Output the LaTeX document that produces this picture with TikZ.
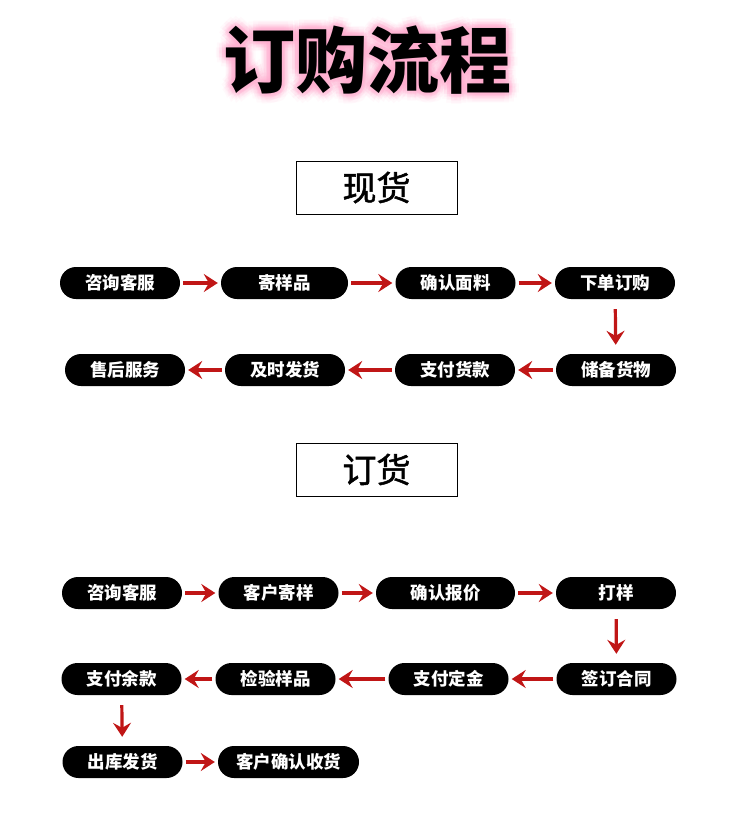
\documentclass[tikz,border=0pt]{standalone}
\usepackage{fontspec}
\setmainfont{Noto Sans CJK SC}
\newfontfamily\tagfont{Noto Sans CJK SC}[FakeBold=1.5]
\usetikzlibrary{arrows.meta,calc}

\definecolor{arrowred}{RGB}{192,22,22}
\definecolor{glowpink}{RGB}{255,170,205}

\tikzset{
  pill/.style={fill=black, text=white, rounded corners=16pt, minimum width=120pt,
    minimum height=32pt, inner sep=0pt, font=\fontsize{17.5}{17.5}\selectfont\bfseries},
  tag/.style={draw=black, line width=0.8pt, minimum width=161pt, minimum height=53pt,
    inner sep=0pt, font=\fontsize{34}{34}\tagfont},
  go/.style={draw=arrowred, line width=3.2pt, -{Stealth[length=14pt,width=18pt,inset=5pt]},
    shorten >=3pt, shorten <=3pt},
  godown/.style={go, shorten >=9pt, shorten <=10pt}
}

\begin{document}
\begin{tikzpicture}[x=1pt,y=-1pt]
\useasboundingbox (0,0) rectangle (750,840);

% title with glow
\foreach \r/\o in {10/0.07, 7/0.11, 4/0.18}
  \foreach \a in {0,30,...,330}
    \node[text=glowpink, opacity=\o, font=\fontsize{72}{72}\selectfont\bfseries]
      (glow) at ($(367,60)+(\a:\r)$) {订购流程};
\node[font=\fontsize{72}{72}\selectfont\bfseries] (title) at (367,60) {订购流程};

% 现货
\node[tag] (stock) at (376.5,187.5) {现货};

\node[pill] (s1) at (120,283) {咨询客服};
\node[pill, minimum width=127pt] (s2) at (284.5,283) {寄样品};
\node[pill] (s3) at (455.5,283) {确认面料};
\node[pill] (s4) at (615,283) {下单订购};
\node[pill] (s5) at (616,370) {储备货物};
\node[pill] (s6) at (455,370) {支付货款};
\node[pill] (s7) at (285,370) {及时发货};
\node[pill] (s8) at (125,370) {售后服务};

\draw[go] (s1) -- (s2);
\draw[go] (s2) -- (s3);
\draw[go] (s3) -- (s4);
\draw[godown] (s4) -- (s5);
\draw[go] (s5) -- (s6);
\draw[go] (s6) -- (s7);
\draw[go] (s7) -- (s8);

% 订货
\node[tag] (order) at (376.5,469.5) {订货};

\node[pill] (o1) at (122,593) {咨询客服};
\node[pill] (o2) at (278.5,593) {客户寄样};
\node[pill, minimum width=139pt] (o3) at (445.5,593) {确认报价};
\node[pill] (o4) at (616,593) {打样};
\node[pill] (o5) at (616.5,679) {签订合同};
\node[pill] (o6) at (448.5,679) {支付定金};
\node[pill] (o7) at (275.5,679) {检验样品};
\node[pill] (o8) at (121.5,679) {支付余款};
\node[pill] (o9) at (122.5,762) {出库发货};
\node[pill, minimum width=141pt] (o10) at (288.5,762) {客户确认收货};

\draw[go] (o1) -- (o2);
\draw[go] (o2) -- (o3);
\draw[go] (o3) -- (o4);
\draw[godown] (o4) -- (o5);
\draw[go] (o5) -- (o6);
\draw[go] (o6) -- (o7);
\draw[go] (o7) -- (o8);
\draw[godown] (o8) -- (o9);
\draw[go] (o9) -- (o10);

\end{tikzpicture}
\end{document}
